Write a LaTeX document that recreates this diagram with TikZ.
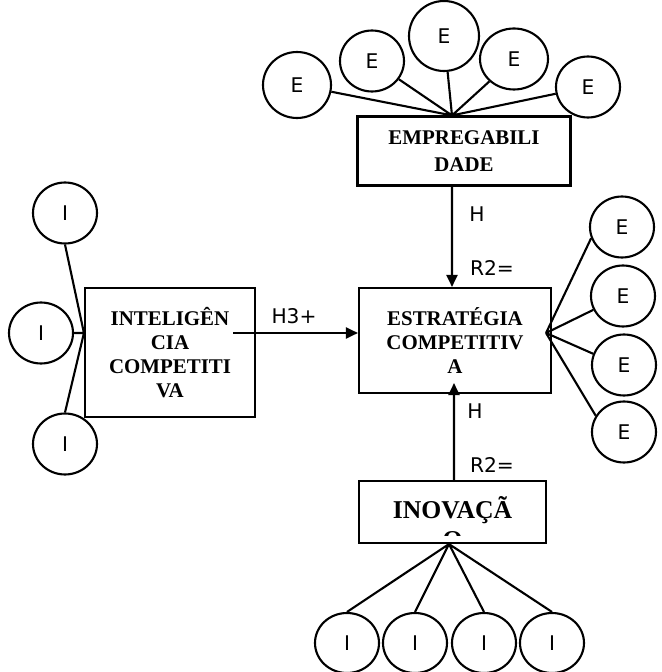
\documentclass[tikz,border=0pt]{standalone}
\usepackage{fontspec}
\setmainfont{Liberation Serif}
\newfontfamily\lblfont{DejaVu Sans}
\usepackage{tikz}
\usetikzlibrary{shapes.geometric, arrows.meta, positioning, calc}
\tikzset{
  box/.style={
    draw, line width=1.2pt, align=center, inner sep=2pt,
    font=\fontsize{11.9}{13.6}\selectfont\bfseries
  },
  circ/.style={
    draw, ellipse, line width=1.2pt, inner sep=0pt,
    minimum width=1.28cm, minimum height=1.22cm,
    font=\lblfont\fontsize{11.5}{13}\selectfont
  },
  arr/.style={-{Triangle[length=0.24cm,width=0.22cm]}, line width=1.2pt},
  lnk/.style={line width=1.2pt},
  lbl/.style={font=\lblfont\fontsize{11.5}{13}\selectfont, inner sep=0pt},
}

\begin{document}
\begin{tikzpicture}
  \useasboundingbox (0,0) rectangle (13.24,13.44);

  % Constructs
  \node[box, minimum width=4.26cm, minimum height=1.38cm,
    font=\fontsize{11.9}{15.3}\selectfont\bfseries] (emp) at (9.28,10.42)
    {EMPREGABILI\\DADE};
  \node[box, minimum width=3.84cm, minimum height=2.10cm] (est) at (9.10,6.63)
    {ESTRATÉGIA\\COMPETITIV\\A};
  \node[box, minimum width=3.40cm, minimum height=2.58cm] (intel) at (3.40,6.39)
    {INTELIGÊN\\CIA\\COMPETITI\\VA};
  \node[box, minimum width=3.74cm, minimum height=1.24cm,
    path picture={
      \clip ([yshift=0.14cm]path picture bounding box.south west)
        rectangle (path picture bounding box.north east);
      \node[font=\fontsize{14.6}{17}\selectfont\bfseries, align=center]
        (inotxt) at ([yshift=-0.22cm]path picture bounding box.center) {INOVAÇÃ\\O};}]
    (ino) at (9.05,3.20) {};

  \coordinate (empbase) at ([xshift=-0.24cm]emp.north);
  \coordinate (estside) at ([xshift=-0.12cm,yshift=0.15cm]est.east);
  \coordinate (intside) at ([yshift=0.39cm]intel.west);
  \coordinate (inobase) at ([xshift=-0.07cm]ino.south);

  % Indicators
  \node[circ, minimum width=1.36cm, minimum height=1.32cm] (emp1) at (5.94,11.74) {E};
  \node[circ] (emp2) at (7.44,12.22) {E};
  \node[circ, minimum width=1.40cm, minimum height=1.40cm] (emp3) at (8.88,12.72) {E};
  \node[circ, minimum width=1.36cm] (emp4) at (10.28,12.26) {E};
  \node[circ] (emp5) at (11.76,11.70) {E};

  \node[circ] (est1) at (12.44,8.90) {E};
  \node[circ] (est2) at (12.46,7.52) {E};
  \node[circ] (est3) at (12.48,6.14) {E};
  \node[circ] (est4) at (12.48,4.80) {E};

  \node[circ] (int1) at (1.30,9.18) {I};
  \node[circ] (int2) at (0.82,6.78) {I};
  \node[circ] (int3) at (1.30,4.56) {I};

  \node[circ, minimum height=1.20cm] (ino1) at (6.94,0.58) {I};
  \node[circ, minimum height=1.20cm] (ino2) at (8.30,0.58) {I};
  \node[circ, minimum height=1.20cm] (ino3) at (9.68,0.58) {I};
  \node[circ, minimum height=1.20cm] (ino4) at (11.04,0.58) {I};

  \draw[lnk] (emp1) -- (empbase) (emp2) -- (empbase) (emp3) -- (empbase)
    (emp4) -- (empbase) (emp5) -- (empbase);
  \draw[lnk] (est1.200) -- (estside) (est2.205) -- (estside)
    (est3.160) -- (estside) (est4.150) -- (estside);
  \draw[lnk] (int1.south) -- (intside) (int2.east) -- (intside) (int3.north) -- (intside);
  \draw[lnk] (ino1.north) -- (inobase) (ino2.north) -- (inobase)
    (ino3.north) -- (inobase) (ino4.north) -- (inobase);

  % Hypotheses
  \draw[arr] ([xshift=-0.24cm]emp.south) -- ([xshift=-0.06cm]est.north);
  \draw[arr] ([xshift=0.03cm]ino.north) -- ([xshift=-0.02cm,yshift=0.22cm]est.south);
  \draw[arr] ([xshift=-0.46cm,yshift=0.39cm]intel.east) -- ([yshift=0.15cm]est.west);

  \node[lbl] (hemp) at (9.54,9.16) {H};
  \node[lbl] (remp) at (9.84,8.08) {R2=};
  \node[lbl] (hino) at (9.50,5.22) {H};
  \node[lbl] (rino) at (9.84,4.14) {R2=};
  \node[lbl] (hint) at (5.88,7.12) {H3+};
\end{tikzpicture}
\end{document}
